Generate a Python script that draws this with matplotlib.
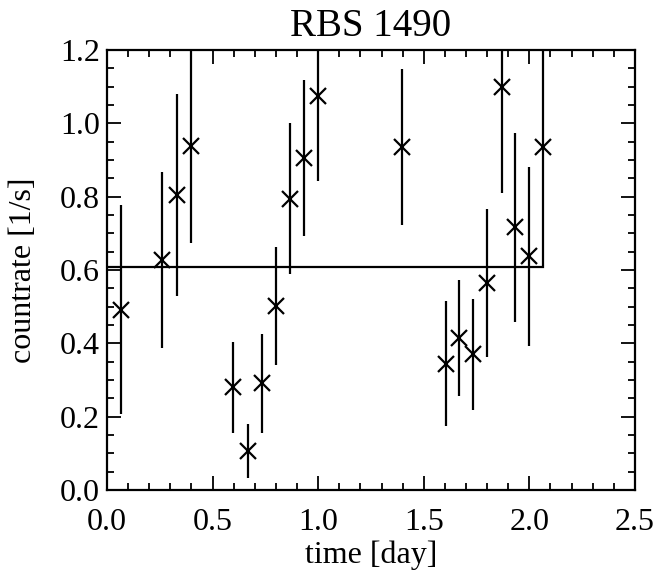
import matplotlib
matplotlib.use("Agg")
import matplotlib.pyplot as plt
from matplotlib.ticker import MultipleLocator, FormatStrFormatter
import numpy as np

plt.rcParams['font.family'] = ['Liberation Serif', 'DejaVu Serif']

time = [0.065, 0.262, 0.330, 0.398, 0.598, 0.666, 0.732, 0.800, 0.866, 0.934, 1.001,
        1.395, 1.604, 1.668, 1.735, 1.801, 1.869, 1.932, 2.000, 2.066]
rate = [0.491, 0.627, 0.804, 0.938, 0.280, 0.107, 0.291, 0.502, 0.795, 0.905, 1.074,
        0.936, 0.345, 0.415, 0.370, 0.564, 1.100, 0.716, 0.638, 0.936]
err = [0.285, 0.240, 0.275, 0.264, 0.125, 0.073, 0.135, 0.161, 0.205, 0.212, 0.230,
       0.212, 0.170, 0.158, 0.152, 0.202, 0.291, 0.258, 0.244, 0.326]
mean_rate = 0.609
mean_end = 2.066

fig = plt.figure(figsize=(6.69, 5.74), dpi=100)
ax = fig.add_axes([0.16, 0.1463, 0.789, 0.7666])

t = np.array(time)
r = np.array(rate)
e = np.array(err)
ax.vlines(t, r - e, r + e, color='black', linewidth=1.6)
ax.plot(t, r, linestyle='none', marker='x', markersize=11, markeredgewidth=1.6, color='black')
ax.plot([0, mean_end], [mean_rate, mean_rate], color='black', linewidth=1.6)

ax.set_xlim(0, 2.5)
ax.set_ylim(0, 1.2)
ax.xaxis.set_major_locator(MultipleLocator(0.5))
ax.xaxis.set_minor_locator(MultipleLocator(0.1))
ax.yaxis.set_major_locator(MultipleLocator(0.2))
ax.yaxis.set_minor_locator(MultipleLocator(0.05))
ax.xaxis.set_major_formatter(FormatStrFormatter('%.1f'))
ax.yaxis.set_major_formatter(FormatStrFormatter('%.1f'))
ax.tick_params(which='both', direction='in', top=True, right=True, width=1.3)
ax.tick_params(which='major', length=10, labelsize=23)
ax.tick_params(axis='x', which='major', pad=13)
ax.tick_params(axis='y', which='major', pad=5)
ax.tick_params(which='minor', length=5)
for s in ax.spines.values():
    s.set_linewidth(1.6)

ax.set_title('RBS 1490', fontsize=28, pad=10)
ax.set_xlabel('time [day]', fontsize=23)
ax.set_ylabel('countrate [1/s]', fontsize=23)
ax.xaxis.set_label_coords(0.5, -0.115)
ax.yaxis.set_label_coords(-0.13, 0.5)

fig.savefig('out.png', dpi=100)
